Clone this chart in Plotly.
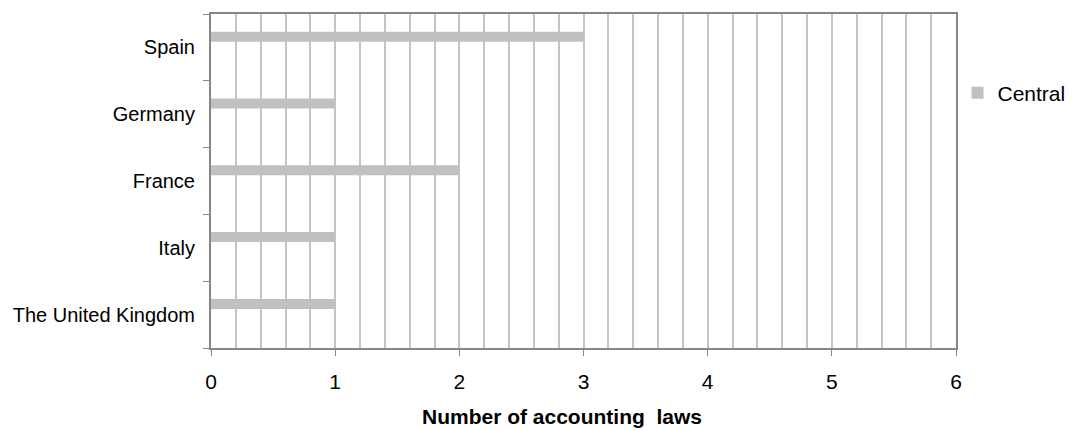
import plotly.graph_objects as go

countries = ["The United Kingdom", "Italy", "France", "Germany", "Spain"]
central = [1, 1, 2, 1, 3]
x_ticks = [0, 1, 2, 3, 4, 5, 6]

fig = go.Figure()
fig.add_trace(go.Bar(
    y=countries, x=central, orientation="h", name="Central",
    marker=dict(color="#c0c0c0", line=dict(width=0)),
    width=0.15, offset=0.085,
))

axis_col = "#868686"
fig.update_layout(
    width=1074, height=430,
    margin=dict(l=211, r=118, t=14, b=82, autoexpand=False),
    paper_bgcolor="white", plot_bgcolor="white",
    font=dict(family="Liberation Sans, Arial, sans-serif", color="black"),
    showlegend=True,
    legend=dict(x=1.002, y=0.763, xanchor="left", yanchor="middle",
                font=dict(size=21), itemwidth=30, bgcolor="rgba(0,0,0,0)"),
    annotations=[dict(
        text="<b>Number of accounting  laws</b>", xref="paper", yref="paper",
        x=0.471, y=-0.2036, xanchor="center", yanchor="middle",
        showarrow=False, font=dict(size=21, color="black"),
    )],
)
fig.update_xaxes(
    range=[0, 6], tickvals=x_ticks, ticktext=[str(v) for v in x_ticks],
    ticks="outside", ticklen=6, tickcolor=axis_col, tickwidth=1,
    showline=True, linecolor=axis_col, linewidth=2, mirror=True,
    showgrid=True, gridcolor="#c4c4c4", gridwidth=2,
    minor=dict(dtick=0.2, tick0=0, showgrid=True, gridcolor="#c4c4c4", gridwidth=2),
    tickfont=dict(size=21), zeroline=False, automargin=False, ticklabelstandoff=8,
)
fig.update_yaxes(
    type="category", categoryorder="array", categoryarray=countries,
    tickson="boundaries", ticks="outside", ticklen=6, tickcolor=axis_col,
    showline=True, linecolor=axis_col, linewidth=2, mirror=True,
    showgrid=False, tickfont=dict(size=20), ticklabelstandoff=10, automargin=False,
)

fig.write_html("out.html", config={"displayModeBar": False},
               post_script="document.body.style.margin='0';")
